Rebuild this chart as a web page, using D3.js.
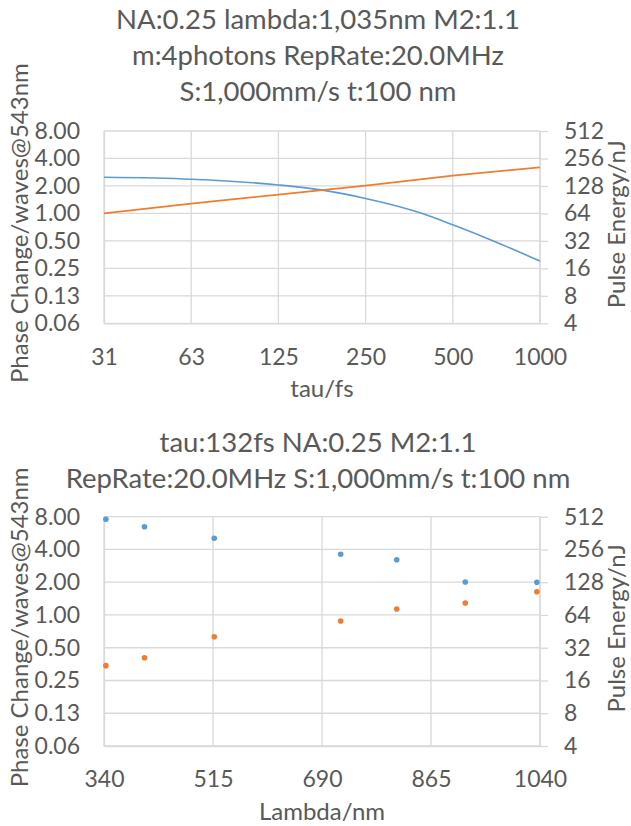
<!DOCTYPE html>
<meta charset="utf-8">
<title>Phase change and pulse energy</title>
<style>
  body { margin: 0; background: white; }
  svg { font-family: Lato, sans-serif; }
  .title { font-size: 27.5px; fill: #595959; }
  .tick text { font-size: 23px; fill: #595959; font-family: Lato, sans-serif; }
  .axis-title { font-size: 24px; fill: #595959; }
  .grid line, .frame line { stroke: #d9d9d9; stroke-width: 1.3px; }
</style>
<body>
<div id="chart"></div>
<script src="https://d3js.org/d3.v7.min.js"></script>
<script>

// ---- data ----
// top panel: phase change (left axis) and pulse energy (right axis) vs tau
var tauFs        = [31.25, 62.5, 125, 175, 250, 388, 500, 700, 1000];
var phaseVsTau   = [2.49, 2.37, 2.05, 1.81, 1.46, 1.01, 0.75, 0.49, 0.30];
var energyTauFs  = [31.25, 62.5, 125, 250, 500, 1000];
var energyVsTau  = [64, 82, 103, 129, 166, 205];

// bottom panel: same quantities vs wavelength
var lambdaNm       = [343, 405, 517, 720, 810, 920, 1035];
var phaseVsLambda  = [7.57, 6.47, 5.06, 3.61, 3.22, 2.01, 2.00];
var energyVsLambda = [21.9, 25.9, 40.4, 56.3, 72.6, 82.4, 104.7];

// ticks
var phaseTicks   = [0.0625, 0.125, 0.25, 0.5, 1, 2, 4, 8];
var energyTicks  = [4, 8, 16, 32, 64, 128, 256, 512];
var tauTicks     = [31.25, 62.5, 125, 250, 500, 1000];
var tauLabels    = ["31", "63", "125", "250", "500", "1000"];
var lambdaTicks  = [340, 515, 690, 865, 1040];

var topTitle = ["NA:0.25 lambda:1,035nm M2:1.1", "m:4photons RepRate:20.0MHz", "S:1,000mm/s t:100 nm"];
var botTitle = ["tau:132fs NA:0.25 M2:1.1", "RepRate:20.0MHz S:1,000mm/s t:100 nm"];

var blue = "#5b9bd5", orange = "#ed7d31";

var W = 631, H = 826;
var left = 104, right = 540;

var svg = d3.select("#chart").append("svg")
    .attr("width", W).attr("height", H);

function titleLines(lines, y0) {
  svg.selectAll(null).data(lines).enter().append("text")
    .attr("class", "title")
    .attr("x", 318)
    .attr("y", function(d, i) { return y0 + i * 36; })
    .attr("text-anchor", "middle")
    .text(function(d) { return d; });
}

// draws the frame, grid, axes and titles of one panel, returns scales
function panel(top, bottom, x, xTicks, xFmt, xTitle) {
  var yL = d3.scaleLog().base(2).domain([0.0625, 8]).range([bottom, top]);
  var yR = d3.scaleLog().base(2).domain([4, 512]).range([bottom, top]);

  // horizontal grid
  svg.append("g").attr("class", "grid")
    .selectAll("line").data(phaseTicks).enter().append("line")
      .attr("x1", left).attr("x2", right)
      .attr("y1", function(d) { return yL(d); })
      .attr("y2", function(d) { return yL(d); });
  // vertical grid
  svg.append("g").attr("class", "grid")
    .selectAll("line").data(xTicks).enter().append("line")
      .attr("x1", function(d) { return x(d); })
      .attr("x2", function(d) { return x(d); })
      .attr("y1", top).attr("y2", bottom);

  // left axis
  var ga = svg.append("g").attr("transform", "translate(" + left + ",0)")
    .call(d3.axisLeft(yL).tickValues(phaseTicks).tickFormat(d3.format(".2f")).tickSize(0).tickPadding(24));
  ga.select(".domain").attr("stroke", "#d9d9d9").attr("stroke-width", 1.3);

  // right axis with outside ticks
  var gr = svg.append("g").attr("transform", "translate(" + right + ",0)")
    .call(d3.axisRight(yR).tickValues(energyTicks).tickFormat(d3.format("d")).tickSize(8).tickPadding(16));
  gr.select(".domain").attr("stroke", "#d9d9d9").attr("stroke-width", 1.3).attr("d", "M0," + bottom + "V" + top);
  gr.selectAll(".tick line").attr("stroke", "#d9d9d9").attr("stroke-width", 1.3);

  // bottom axis
  var gb = svg.append("g").attr("transform", "translate(0," + bottom + ")")
    .call(d3.axisBottom(x).tickValues(xTicks).tickFormat(xFmt).tickSize(0).tickPadding(25));
  gb.select(".domain").attr("stroke", "#d9d9d9").attr("stroke-width", 1.3);

  svg.selectAll(".tick text").style("font-size", "23px");

  // axis titles
  svg.append("text").attr("class", "axis-title")
    .attr("x", (left + right) / 2).attr("y", bottom + 74)
    .attr("text-anchor", "middle").text(xTitle);
  svg.append("text").attr("class", "axis-title")
    .attr("transform", "translate(28," + ((top + bottom) / 2 - 4) + ") rotate(-90)")
    .attr("text-anchor", "middle").text("Phase Change/waves@543nm");
  svg.append("text").attr("class", "axis-title")
    .attr("transform", "translate(625," + ((top + bottom) / 2 - 3) + ") rotate(-90)")
    .attr("text-anchor", "middle").text("Pulse Energy/nJ");

  return { yL: yL, yR: yR };
}

// ---- top panel ----
titleLines(topTitle, 28.5);
var xTau = d3.scaleLog().base(2).domain([31.25, 1000]).range([left, right]);
var p1 = panel(131, 323.3, xTau, tauTicks, function(d, i) { return tauLabels[i]; }, "tau/fs");

svg.append("path")
  .datum(tauFs)
  .attr("fill", "none").attr("stroke", blue).attr("stroke-width", 1.6)
  .attr("d", d3.line()
    .x(function(d) { return xTau(d); })
    .y(function(d, i) { return p1.yL(phaseVsTau[i]); })
    .curve(d3.curveMonotoneX));

svg.append("path")
  .datum(energyTauFs)
  .attr("fill", "none").attr("stroke", orange).attr("stroke-width", 1.8)
  .attr("d", d3.line()
    .x(function(d) { return xTau(d); })
    .y(function(d, i) { return p1.yR(energyVsTau[i]); }));

// ---- bottom panel ----
titleLines(botTitle, 451.5);
var xLam = d3.scaleLinear().domain([340, 1040]).range([left, right]);
var p2 = panel(516.7, 746, xLam, lambdaTicks, d3.format("d"), "Lambda/nm");

svg.selectAll("circle.ph").data(lambdaNm).enter().append("circle")
  .attr("class", "ph")
  .attr("cx", function(d) { return xLam(d); })
  .attr("cy", function(d, i) { return p2.yL(phaseVsLambda[i]); })
  .attr("r", 2.8)
  .attr("fill", blue);

svg.selectAll("circle.en").data(lambdaNm).enter().append("circle")
  .attr("class", "en")
  .attr("cx", function(d) { return xLam(d); })
  .attr("cy", function(d, i) { return p2.yR(energyVsLambda[i]); })
  .attr("r", 2.8)
  .attr("fill", orange);

</script>
</body>
